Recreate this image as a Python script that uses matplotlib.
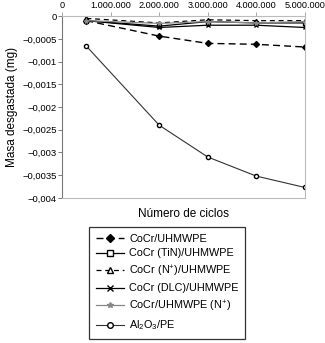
import matplotlib
matplotlib.use("Agg")
import matplotlib.pyplot as plt
from matplotlib.ticker import FuncFormatter

plt.rcParams['font.family'] = ['Liberation Sans', 'DejaVu Sans']
plt.rcParams['font.size'] = 7
plt.rcParams['mathtext.fontset'] = 'custom'
plt.rcParams['mathtext.rm'] = 'Liberation Sans'
plt.rcParams['mathtext.default'] = 'regular'

# datos
ciclos = [500000, 2000000, 3000000, 4000000, 5000000]
cocr_uhmwpe = [-0.00010, -0.00044, -0.00060, -0.00062, -0.00068]
cocr_tin = [-0.00010, -0.00022, -0.00012, -0.00015, -0.00015]
cocr_nplus = [-0.00005, -0.00015, -0.00008, -0.00010, -0.00010]
cocr_dlc = [-0.00010, -0.00025, -0.00020, -0.00020, -0.00025]
cocr_uhmwpe_n = [-0.00010, -0.00016, -0.00012, -0.00015, -0.00012]
al2o3_pe = [-0.00066, -0.00240, -0.00310, -0.00352, -0.00377]

etiquetas = ['CoCr/UHMWPE', 'CoCr (TiN)/UHMWPE', 'CoCr (N$^{+}$)/UHMWPE',
             'CoCr (DLC)/UHMWPE', 'CoCr/UHMWPE (N$^{+}$)', 'Al$_2$O$_3$/PE']

fig = plt.figure(figsize=(3.25, 3.43), dpi=100)
ax = fig.add_axes([0.191, 0.423, 0.747, 0.53])

ms = 3
ax.plot(ciclos, cocr_uhmwpe, '--', color='black', lw=1.0, marker='D', ms=ms,
        mfc='black', dashes=(5, 3), label=etiquetas[0])
ax.plot(ciclos, cocr_tin, '-', color='black', lw=0.9, marker='s', ms=ms,
        mfc='white', label=etiquetas[1])
ax.plot(ciclos, cocr_nplus, '--', color='black', lw=0.9, marker='^', ms=ms,
        mfc='white', dashes=(4, 3), label=etiquetas[2])
ax.plot(ciclos, cocr_dlc, '-', color='black', lw=0.9, marker='x', ms=ms,
        label=etiquetas[3])
ax.plot(ciclos, cocr_uhmwpe_n, '-', color='#888888', lw=0.9, marker='*', ms=ms,
        label=etiquetas[4])
ax.plot(ciclos, al2o3_pe, '-', color='#333333', lw=0.8, marker='o', ms=ms,
        mfc='white', mec='black', label=etiquetas[5])

ax.set_xlim(0, 5000000)
ax.set_ylim(-0.004, 0)
ax.set_xticks([0, 1000000, 2000000, 3000000, 4000000, 5000000])
ax.set_yticks([0, -0.0005, -0.001, -0.0015, -0.002, -0.0025, -0.003, -0.0035, -0.004])

ax.xaxis.tick_top()
ax.xaxis.set_major_formatter(FuncFormatter(lambda v, p: f"{int(v):,}".replace(',', '.')))
ax.yaxis.set_major_formatter(FuncFormatter(
    lambda v, p: '0' if abs(v) < 1e-12 else str(round(v, 4)).replace('.', ',').replace('-', '\u2212')))
ax.tick_params(axis='x', length=3, width=0.6, pad=1.5, color='#999999', labelsize=6.6)
ax.tick_params(axis='y', length=3, width=0.6, pad=1, color='#666666', labelsize=6.8)

for s in ['top', 'right', 'bottom']:
    ax.spines[s].set_color('#bbbbbb')
    ax.spines[s].set_linewidth(0.8)
ax.spines['left'].set_color('#777777')
ax.spines['left'].set_linewidth(0.8)

ax.set_ylabel('Masa desgastada (mg)', fontsize=8.5, labelpad=3)
ax.set_xlabel('Número de ciclos', fontsize=8.5, labelpad=7)

handles, labels = ax.get_legend_handles_labels()
leg = fig.legend(handles, labels, loc='upper left', bbox_to_anchor=(0.274, 0.338),
                 frameon=True, fancybox=False, edgecolor='black', fontsize=7.8,
                 markerscale=1.35, handlelength=2.6, handletextpad=0.5,
                 labelspacing=0.45, borderpad=0.6, borderaxespad=0)
leg.get_frame().set_linewidth(0.9)

fig.savefig('out.png', dpi=100)
